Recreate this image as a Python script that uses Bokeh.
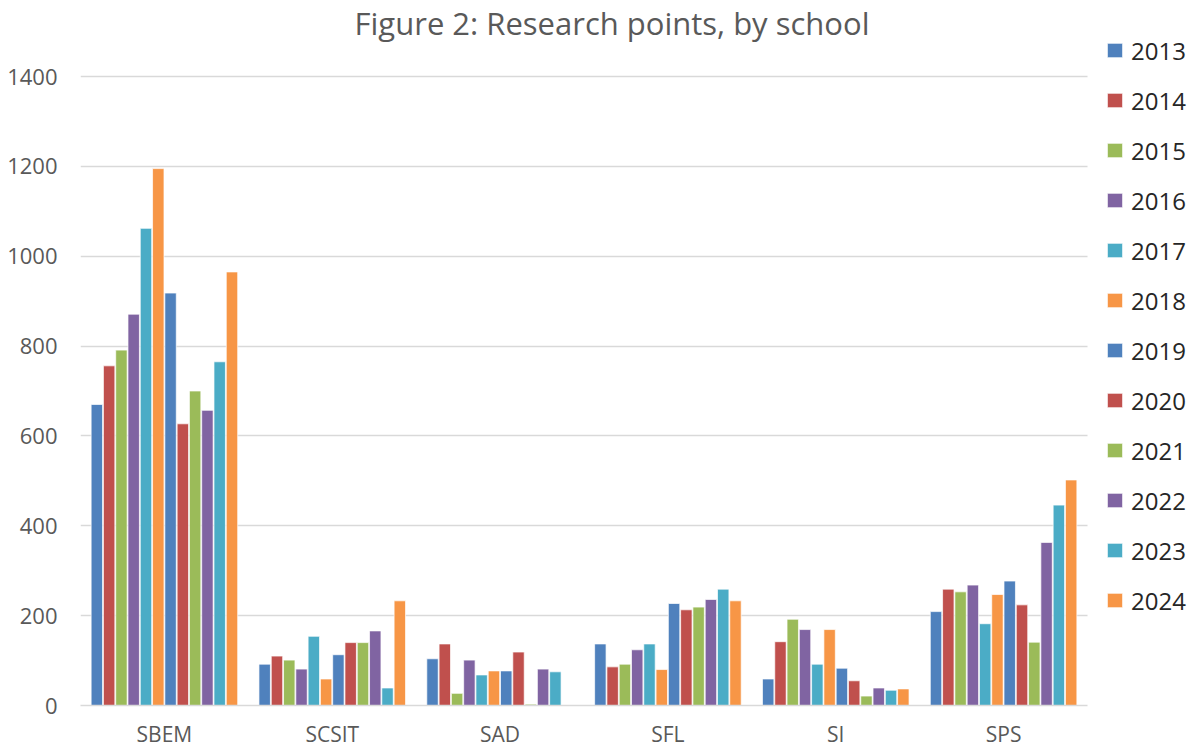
from bokeh.plotting import figure
from bokeh.models import ColumnDataSource, Range1d, FixedTicker, Legend, LegendItem, Label
from bokeh.transform import dodge
from bokeh.embed import file_html
from bokeh.resources import INLINE

schools = ["SBEM", "SCSIT", "SAD", "SFL", "SI", "SPS"]
years = ["2013", "2014", "2015", "2016", "2017", "2018",
         "2019", "2020", "2021", "2022", "2023", "2024"]

sbem = [670, 756, 791, 871, 1062, 1195, 918, 627, 700, 657, 765, 965]
scsit = [92, 110, 101, 81, 154, 59, 113, 140, 140, 166, 39, 233]
sad = [104, 137, 27, 101, 68, 77, 77, 119, 3, 81, 75, 0]
sfl = [137, 86, 92, 124, 137, 80, 227, 213, 219, 236, 259, 233]
si = [59, 142, 192, 169, 92, 169, 83, 55, 21, 39, 34, 37]
sps = [209, 259, 253, 268, 182, 247, 277, 224, 141, 363, 446, 502]

y_ticks = [0, 200, 400, 600, 800, 1000, 1200, 1400]
title_text = "Figure 2: Research points, by school"

base_colors = ["#4F81BD", "#C0504D", "#9BBB59", "#8064A2", "#4BACC6", "#F79646"]
colors = base_colors * 2

rows = [sbem, scsit, sad, sfl, si, sps]
xpos = [i + 0.5 for i in range(len(schools))]
data = {"school": schools, "xpos": xpos}
for j, yr in enumerate(years):
    data[yr] = [r[j] for r in rows]
source = ColumnDataSource(data)

FONT = "Open Sans"
W, H = 1194, 751
frame_left, frame_bottom = 80, 705
cat_px = (1087 - 80) / len(schools)
px_per_unit = (705 - 76) / 1400.0
x_end = (W - frame_left) / cat_px
y_end = 1400 + 76 / px_per_unit

p = figure(x_range=Range1d(0, x_end), y_range=Range1d(0, y_end),
           width=W, height=H,
           output_backend="svg", toolbar_location=None,
           min_border_left=frame_left, min_border_right=0,
           min_border_top=0, min_border_bottom=H - frame_bottom)
p.outline_line_color = None
p.background_fill_color = "white"

pitch = 0.0732
renderers = []
for j, yr in enumerate(years):
    off = (j - 5.5) * pitch
    r = p.vbar(x=dodge("xpos", off), top=yr, width=pitch * 0.93,
               source=source, fill_color=colors[j], line_color="white", line_width=0.7)
    renderers.append(r)

p.xgrid.grid_line_color = None
p.ygrid.grid_line_color = "#D9D9D9"
p.ygrid.grid_line_width = 1.6
p.ygrid.cross_bounds = (0, len(schools))
p.yaxis.ticker = FixedTicker(ticks=y_ticks)
p.yaxis.axis_line_color = None
p.yaxis.major_tick_line_color = None
p.yaxis.minor_tick_line_color = None
p.yaxis.major_tick_out = 0
p.yaxis.major_label_standoff = 23
p.yaxis.major_label_text_font = FONT
p.yaxis.major_label_text_font_size = "22px"
p.yaxis.major_label_text_color = "#595959"

p.xaxis.ticker = FixedTicker(ticks=xpos)
p.xaxis.major_label_overrides = {x: s for x, s in zip(xpos, schools)}
p.xaxis.bounds = (0, len(schools))
p.xaxis.axis_line_color = "#D9D9D9"
p.xaxis.axis_line_width = 1.6
p.xaxis.major_tick_line_color = None
p.xaxis.minor_tick_line_color = None
p.xaxis.major_tick_out = 0
p.xaxis.major_label_standoff = 14
p.xaxis.major_label_text_font = FONT
p.xaxis.major_label_text_font_size = "21px"
p.xaxis.major_label_text_color = "#595959"

title_y = 1400 + (76 - 22) / px_per_unit
p.add_layout(Label(x=(611.5 - frame_left) / cat_px, y=title_y, text=title_text,
                   text_align="center", text_baseline="middle",
                   text_font=FONT, text_font_size="31px", text_color="#595959"))

legend = Legend(items=[LegendItem(label=yr, renderers=[renderers[j]]) for j, yr in enumerate(years)],
                location=(1105 - frame_left, 88), orientation="vertical")
legend.margin = 0
legend.padding = 0
legend.border_line_color = None
legend.background_fill_alpha = 0
legend.glyph_width = 19
legend.glyph_height = 18
legend.label_height = 34
legend.spacing = 16
legend.label_standoff = 7
legend.label_text_font = FONT
legend.label_text_font_size = "24px"
legend.label_text_color = "#262626"
p.add_layout(legend)

open("out.html", "w").write(file_html(p, INLINE))
